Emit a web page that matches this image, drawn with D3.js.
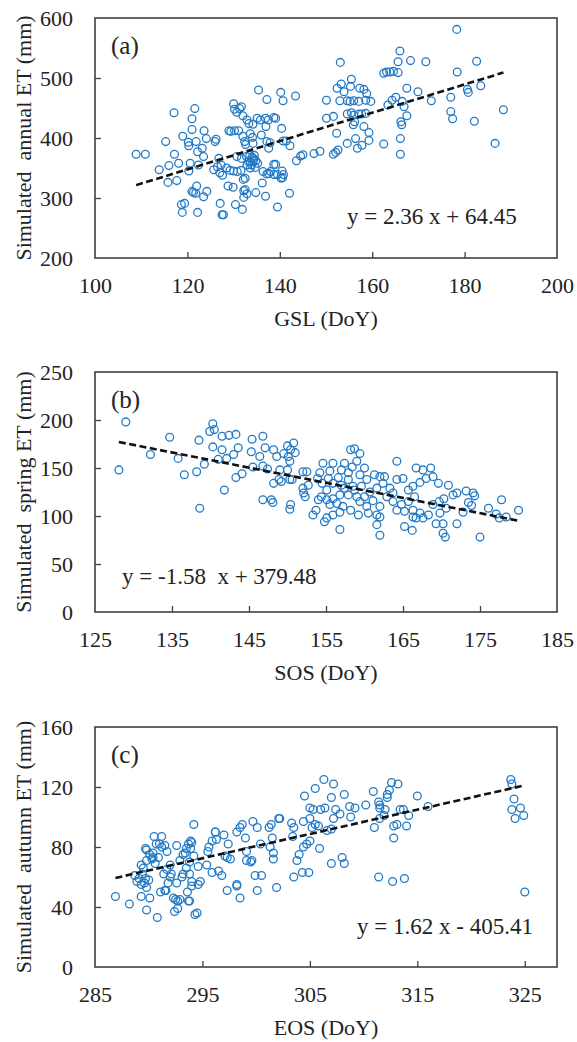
<!DOCTYPE html>
<html>
<head>
<meta charset="utf-8">
<script src="https://cdn.jsdelivr.net/npm/d3@7"></script>
<style>
  html, body { margin: 0; padding: 0; background: #fff; }
  text { font-family: "Liberation Serif", "Times New Roman", serif; fill: #222; }
</style>
</head>
<body>
<svg id="chart" width="577" height="1042"></svg>
<script>
// ---- data ----
const panelNames = ['(a)', '(b)', '(c)'];
const xTitles = ['GSL (DoY)', 'SOS (DoY)', 'EOS (DoY)'];
const yTitles = ['Simulated  annual ET (mm)', 'Simulated  spring ET (mm)', 'Simulated  autumn ET (mm)'];
const equations = ['y = 2.36 x + 64.45', 'y = -1.58  x + 379.48', 'y = 1.62 x - 405.41'];
const slopes = [2.36, -1.58, 1.62];
const intercepts = [64.45, 379.48, -405.41];

const gslTicks = [100, 120, 140, 160, 180, 200];
const annualTicks = [200, 300, 400, 500, 600];
const sosTicks = [125, 135, 145, 155, 165, 175, 185];
const springTicks = [0, 50, 100, 150, 200, 250];
const eosTicks = [285, 295, 305, 315, 325];
const autumnTicks = [0, 40, 80, 120, 160];
const eosMax = 328;

// [GSL, annual ET]
const annualPts = [
  [108.9,373],[110.9,373],[113.9,347],[115.3,394],[115.8,326],[116,354],[117.1,442],[117.2,373],[117.7,329],[118.1,358],
  [118.7,289],[119.4,291],[118.9,276],[119,403],[120.2,393],[120.3,387],[120.6,358],[120.3,345],[121.6,449],[121,432],
  [121,414],[121.9,394],[122.2,377],[122.4,355],[121,311],[121.3,309],[121.8,308],[122,320],[122.2,276],[123.2,383],
  [123.5,369],[123.5,302],[123.6,412],[124.2,311],[124.1,399],[126,394],[126.2,398],[125.7,347],[126.5,352],[127,342],
  [127.3,355],[127.6,338],[127.1,291],[127.5,272],[127.8,272],[128.8,320],[129.9,318],[129,412],[129.4,411],[130,457],
  [130.2,412],[131.1,412],[130.2,448],[130.7,443],[131.3,449],[131.7,452],[132,437],[130.4,289],[131.9,281],[130.7,369],
  [131.7,366],[130,345],[130.8,344],[131.6,346],[132.2,312],[132.5,314],[132.9,307],[132.2,301],[132,403],[132.4,394],
  [132.6,389],[132.1,331],[132.5,333],[132.9,430],[133.3,424],[133.6,407],[134.1,401],[134.2,391],[132.9,355],[133.6,360],
  [134.3,366],[134.8,362],[134.5,371],[133.5,371],[134,368],[134.2,423],[135.1,433],[135.8,430],[136.9,433],[137.5,430],
  [138.7,434],[139.1,433],[135.4,480],[137.2,464],[136,405],[137,419],[137.2,394],[137.6,383],[137.9,392],[136.4,344],
  [137.2,340],[137.6,341],[138,344],[136.2,325],[134.8,309],[136.9,303],[138.7,356],[139.1,356],[138.7,339],[139.5,339],
  [139.5,285],[140.2,476],[140.7,462],[140.4,416],[140.7,395],[141.4,395],[140.5,345],[140.8,339],[140.3,333],[140.6,334],
  [142.1,308],[142.2,387],[143.4,470],[143.6,362],[144.5,370],[145,372],[147.4,374],[148.7,378],
  [133.2,361],[133.9,355],[134.3,363],[133.6,350],[132.8,369],[134.7,351],[135.2,358],[128.5,350],[129.2,346],[126.8,366],
  [151.6,373],[152.1,376],[152.6,380],[153.1,526],[150.1,463],[150.1,433],[151.6,436],[152.3,408],[152.4,483],[153.3,490],
  [153.9,477],[155.5,498],[155.3,486],[153,462],[154.6,462],[155.2,461],[156,462],[157.1,461],[154.6,440],[155.5,442],
  [156,438],[157.1,440],[154.6,391],[156.4,399],[156.8,383],[157.8,388],[159.3,396],[155.9,422],[156.2,427],[157.3,483],
  [158.2,481],[158.8,474],[158.6,463],[159.7,461],[157.7,440],[158.6,441],[158.2,419],[159.3,409],[162.5,390],[162.5,508],
  [163.1,510],[163.8,510],[164.6,511],[165.6,509],[166,545],[165.6,527],[168.3,529],[171.6,527],[163.4,455],[164.3,463],
  [165.1,468],[166.5,461],[167.5,483],[166.9,452],[167.5,437],[166.2,427],[166.4,422],[166.1,399],[166.1,373],[169.9,477],
  [172.8,462],[177,468],[177,444],[177.4,432],[178.3,581],[178.4,510],[180.6,481],[180.8,476],[182.6,528],[183.5,487],
  [182.1,428],[186.6,391],[188.4,447]
];

// [SOS, spring ET]
const springPts = [
  [128.1,148],[129,198],[132.2,164],[134.7,182],[135.8,160],[136.6,143],[138.2,146],[138.5,179],[138.6,108],[139.2,154],
  [139.9,188],[140.3,196],[140.5,190],[140.3,172],[141.5,183],[142.4,184],[143.3,185],[141.5,169],[141,159],[142.1,160],
  [141.8,127],[143,164],[143.6,171],[143.3,140],[144.1,144],[145.4,180],[146.8,183],[145.3,167],[146.4,162],[147.1,171],
  [145.5,151],[146.8,152],[147.4,149],[146.8,117],[147.9,117],[148.1,114],[148.2,169],[148.6,162],[149,148],[148.2,134],
  [148.9,138],[150,173],[150.4,169],[150.1,162],[149.5,165],[150.3,157],[150.8,176],[151,166],[150,148],[150.3,138],
  [150.6,138],[150.4,112],[150.3,107],[149.2,136],[152,146],[152.5,146],[152,129],[152.3,120],[152.7,132],[152.1,124],
  [153.3,101],[153.7,106],[154,117],[153.9,139],
  [154.6,155],[155.9,155],[157.4,155],[155.5,147],[157,148],[158.2,169],[158.7,170],[159.4,165],[159,157],[158.4,151],
  [160,150],[156.6,140],[155.3,139],[154.5,134],[155.9,134],[157,132],[157.9,138],[158.5,131],[159.6,131],[160.3,138],
  [161.3,143],[162,141],[162.6,141],[162.4,134],[161.6,129],[160.7,125],[160,120],[159,120],[157.9,122],[156.8,122],
  [155.9,118],[155.1,117],[154.4,120],[155.5,112],[156.4,113],[157.2,110],[158.2,106],[156.8,104],[155.9,101],[155.1,98],
  [154.8,94],[159.2,101],[160.5,103],[161.6,101],[162,110],[161.1,116],[162.9,120],[163.7,124],[163.3,129],[164.2,157],
  [165,139],[165.7,127],[166.3,131],[166.7,150],[167.6,148],[168.6,150],[168.9,141],[169.6,134],[168,139],[167.2,135],
  [166.5,120],[165.7,115],[164.8,112],[164.2,106],[165.2,105],[166.3,106],[167.2,103],[166.7,98],[167.6,98],[168.3,101],
  [168.9,112],[169.7,115],[170.3,118],[170.9,132],[171.5,122],[172,124],[170.6,108],[169.8,103],[169.3,92],[170.2,92],
  [170.2,82],[170.5,78],[172,92],[166.3,99],[162,99],[161.6,91],[162,80],[165.2,89],[166.2,85],[156.8,86],
  [163.7,115],[159.4,115],[160.3,110],[158.7,127],[157.4,129],[155.1,127],[154.2,145],[164.2,138],[159.4,143],[157.9,145],
  [173.2,126],[174.1,124],[174.3,121],[173.5,114],[173.9,111],[172.8,104],[175,78],[176.1,108],[177.1,102],[177.5,98],
  [177.8,117],[178.4,99],[180,106]
];

// [EOS, autumn ET]
const autumnPts = [
  [286.9,47],[288.2,42],[289.8,38],[290.8,33],[288.7,61],[288.9,57],[289.1,59],[289.3,55],[289.6,56],[289.8,53],
  [289.4,62],[289.7,59],[290,58],[289.3,47],[290.1,46],[289.3,68],[289.5,66],[289.7,79],[289.8,71],[290.1,75],
  [290.4,76],[290.3,72],[290.6,69],[290.9,73],[290.5,87],[291.2,87],[291,82],[291.2,80],[290.7,82],[291.5,81],
  [291.7,77],[291.4,62],[291.7,65],[292,60],[291.8,56],[291.6,51],[291.1,50],[292.3,46],[292.7,44],[292.9,45],
  [292.4,37],[292.7,39],[292.9,71],[293.2,75],[293.5,79],[293.7,82],[294,83],[293.9,79],[294.2,74],[293.8,70],
  [293.5,66],[293.2,62],[293.8,62],[294,57],[293.6,50],[293.8,44],[294.5,36],[294.2,95],[294.6,67],[294.8,57],
  [294.6,55],[295.5,77],[295.6,80],[295.9,84],[296.2,90],[296.3,85],[297,88],[297.4,82],[295.9,63],[296.5,64],
  [296.8,61],[297.3,73],[297.6,72],[297.3,51],[298.2,55],[298.5,46],[298.2,90],[298.5,93],[298.7,95],[299,86],
  [299.1,77],[299.5,70],[299.6,71],[299.9,61],[300.5,61],[299.7,97],[300.1,93],[300.4,82],[300.1,51],[301.9,53],
  [301.2,93],[301.4,95],[302.1,99],[302.2,99],[301.5,86],[301.3,80],[301.6,76],[301.6,72],[303.5,60],[303.8,71],
  [304.3,63],[304.4,80],[304.7,82],[305,84],[305.2,93],[305.5,95],[304.4,97],[305,99],[303.3,96],[303.5,93],
  [303.4,87],[304,75],[304.5,114],[305.5,119],[305,106],[305.3,105],[304.9,63],
  [292.6,81],[293.9,84],[293.4,76],[292,68],[292.1,62],[293.1,60],[292.6,56],[291.5,51],[292.5,45],[293.7,44],
  [294.3,35],[294,54],[295.4,68],[296.2,90],[297.1,74],[298.2,54],[299.1,71],[290.4,73],[289.8,78],
  [306.3,125],[307.2,122],[307,113],[308.2,115],[306,105],[306.4,106],[307.4,105],[307.8,102],[308.7,107],[309.2,106],
  [307.2,99],[308.8,100],[306.6,91],[307,92],[305.8,94],[305.9,79],[308,73],[308.2,69],[307,69],[310.2,108],
  [310.9,117],[311.4,110],[311.5,108],[311.5,106],[312.2,113],[312.2,115],[312.4,118],[312.6,123],[313.2,122],[312,105],
  [311.9,101],[311.5,99],[311,93],[312.8,94],[313.1,95],[313.4,105],[313.7,105],[314.2,101],[314,94],[312.8,86],
  [315,114],[316,107],[311.4,60],[312.7,57],[313.8,59],
  [323.7,125],[323.8,122],[324,112],[323.8,105],[324.6,106],[324.9,101],[324.1,99],[325,50]
];

const xTickSets = [gslTicks, sosTicks, eosTicks];
const yTickSets = [annualTicks, springTicks, autumnTicks];
const pointSets = [annualPts, springPts, autumnPts];

// ---- layout ----
const left = 95, right = 557;
const tops = [18, 372, 727];
const plotH = 240;
const dotColor = '#2179c6';
const frameColor = '#404040';

const svg = d3.select('#chart');
svg.append('rect').attr('width', 577).attr('height', 1042).attr('fill', '#fff');

pointSets.forEach((pts, i) => {
  const top = tops[i], bottom = top + plotH;
  const xt = xTickSets[i], yt = yTickSets[i];
  const xMax = i === 2 ? eosMax : xt[xt.length - 1];

  const x = d3.scaleLinear().domain([xt[0], xMax]).range([left, right]);
  const y = d3.scaleLinear().domain([yt[0], yt[yt.length - 1]]).range([bottom, top]);

  const g = svg.append('g');

  // axes, ticks point inward
  const xAxis = g.append('g')
    .attr('transform', `translate(0,${bottom})`)
    .call(d3.axisBottom(x).tickValues(xt).tickSize(-6).tickPadding(19).tickFormat(d3.format('d')));
  const yAxis = g.append('g')
    .attr('transform', `translate(${left},0)`)
    .call(d3.axisLeft(y).tickValues(yt).tickSize(-6).tickPadding(22).tickFormat(d3.format('d')));

  [xAxis, yAxis].forEach(a => {
    a.select('.domain').remove();
    a.selectAll('.tick line').attr('stroke', frameColor).attr('stroke-width', 1.3);
    a.selectAll('.tick text').attr('font-size', 22).attr('fill', '#222')
      .attr('font-family', '"Liberation Serif", "Times New Roman", serif');
  });
  // hide ticks sitting on the frame corners
  xAxis.selectAll('.tick line').filter(d => d === xt[0] || d === xMax).remove();
  yAxis.selectAll('.tick line').filter(d => d === yt[0] || d === yt[yt.length - 1]).remove();

  // frame
  g.append('rect')
    .attr('x', left).attr('y', top)
    .attr('width', right - left).attr('height', plotH)
    .attr('fill', 'none').attr('stroke', frameColor).attr('stroke-width', 1.6);

  // points
  g.selectAll('circle.pt')
    .data(pts)
    .enter()
    .append('circle')
    .attr('class', 'pt')
    .attr('cx', d => x(d[0]))
    .attr('cy', d => y(d[1]))
    .attr('r', 3.9)
    .attr('fill', 'none')
    .attr('stroke', dotColor)
    .attr('stroke-width', 1.3);

  // trend line
  const ext = d3.extent(pts, d => d[0]);
  const line = d3.line().x(d => x(d)).y(d => y(slopes[i] * d + intercepts[i]));
  g.append('path')
    .attr('d', line(ext))
    .attr('fill', 'none')
    .attr('stroke', '#111')
    .attr('stroke-width', 2.6)
    .attr('stroke-dasharray', '7,3.5');

  // panel label
  g.append('text')
    .attr('x', 111).attr('y', top + 36)
    .attr('font-size', 25)
    .text(panelNames[i]);

  // equation
  const eqPos = [[347, top + 206], [122, top + 212], [357, top + 207]][i];
  g.append('text')
    .attr('x', eqPos[0]).attr('y', eqPos[1])
    .attr('font-size', 23)
    .style('white-space', 'pre')
    .text(equations[i]);

  // axis titles
  g.append('text')
    .attr('x', (left + right) / 2).attr('y', bottom + 68)
    .attr('text-anchor', 'middle')
    .attr('font-size', 22)
    .text(xTitles[i]);
  g.append('text')
    .attr('transform', `translate(31,${(top + bottom) / 2}) rotate(-90)`)
    .attr('text-anchor', 'middle')
    .attr('font-size', 22)
    .style('white-space', 'pre')
    .text(yTitles[i]);
});
</script>
</body>
</html>
